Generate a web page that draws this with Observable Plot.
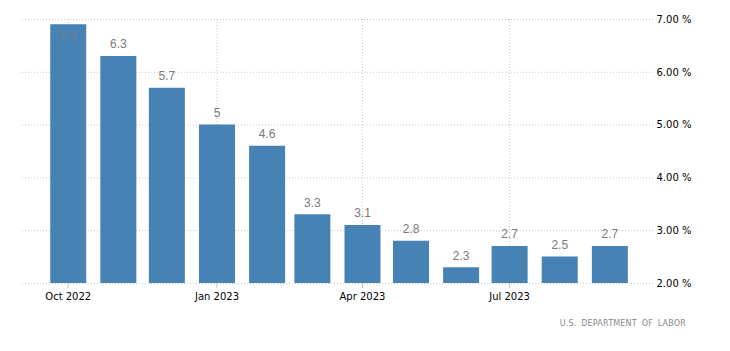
<!DOCTYPE html>
<html>
<head>
<meta charset="utf-8">
<script src="https://cdn.jsdelivr.net/npm/d3@7"></script>
<script src="https://cdn.jsdelivr.net/npm/@observablehq/plot@0.6"></script>
<style>
  html, body { margin: 0; padding: 0; background: #fff; }
  #wrap { position: relative; width: 730px; height: 351px; }
  #caption { position: absolute; right: 44px; top: 319px; font-family: "DejaVu Sans", sans-serif; font-size: 8px; letter-spacing: 0.2px; word-spacing: 2px; color: #888; }
</style>
</head>
<body>
<div id="wrap"><div id="caption">U.S. DEPARTMENT OF LABOR</div></div>
<script>
const months = ["2022-10-01","2022-11-01","2022-12-01","2023-01-01","2023-02-01","2023-03-01","2023-04-01","2023-05-01","2023-06-01","2023-07-01","2023-08-01","2023-09-01"];
const values = [6.9, 6.3, 5.7, 5, 4.6, 3.3, 3.1, 2.8, 2.3, 2.7, 2.5, 2.7];
const xTicks = ["2022-10-01","2023-01-01","2023-04-01","2023-07-01"];
const yTicks = [2, 3, 4, 5, 6, 7];

const data = months.map((m, i) => ({date: new Date(m + "T00:00:00Z"), value: values[i]}));
const xTickDates = xTicks.map(d => new Date(d + "T00:00:00Z"));
const maxV = d3.max(values);

const chart = Plot.plot({
  width: 730,
  height: 351,
  marginLeft: 22,
  marginRight: 77,
  marginTop: 19,
  marginBottom: 68,
  style: {fontFamily: "DejaVu Sans, sans-serif", fontSize: "10px", background: "#fff"},
  x: {type: "utc", domain: [new Date("2022-09-02T17:00:00Z"), new Date("2023-09-28T00:00:00Z")]},
  y: {domain: [2, 7]},
  marks: [
    Plot.ruleY(yTicks, {stroke: "#c8c8c8", strokeDasharray: "1,2", strokeWidth: 1}),
    Plot.ruleX(xTickDates, {stroke: "#c8c8c8", strokeDasharray: "1,2", strokeWidth: 1}),
    Plot.ruleX(data, {x: "date", y1: 2, y2: "value", stroke: "#4682b4", strokeWidth: 36}),
    Plot.axisX({ticks: xTickDates, tickFormat: "%b %Y", tickSize: 5, tickPadding: 4, stroke: "#c8c8c8", color: "#000", label: null, fontSize: 10}),
    Plot.axisY({anchor: "right", ticks: yTicks, tickFormat: d => d.toFixed(2) + " %", tickSize: 0, tickPadding: 3, label: null, color: "#000", fontSize: 10}),
    Plot.text(data.filter(d => d.value < maxV), {x: "date", y: "value", text: d => String(d.value), dy: -12, fill: "#7a7a7a", fontSize: 12, fontFamily: "Liberation Sans, sans-serif"}),
    Plot.text(data.filter(d => d.value === maxV), {x: "date", y: "value", text: d => String(d.value), dy: 11, fill: "#6f7f8f", fontSize: 12, fontFamily: "Liberation Sans, sans-serif"})
  ]
});
document.getElementById("wrap").prepend(chart);
</script>
</body>
</html>
